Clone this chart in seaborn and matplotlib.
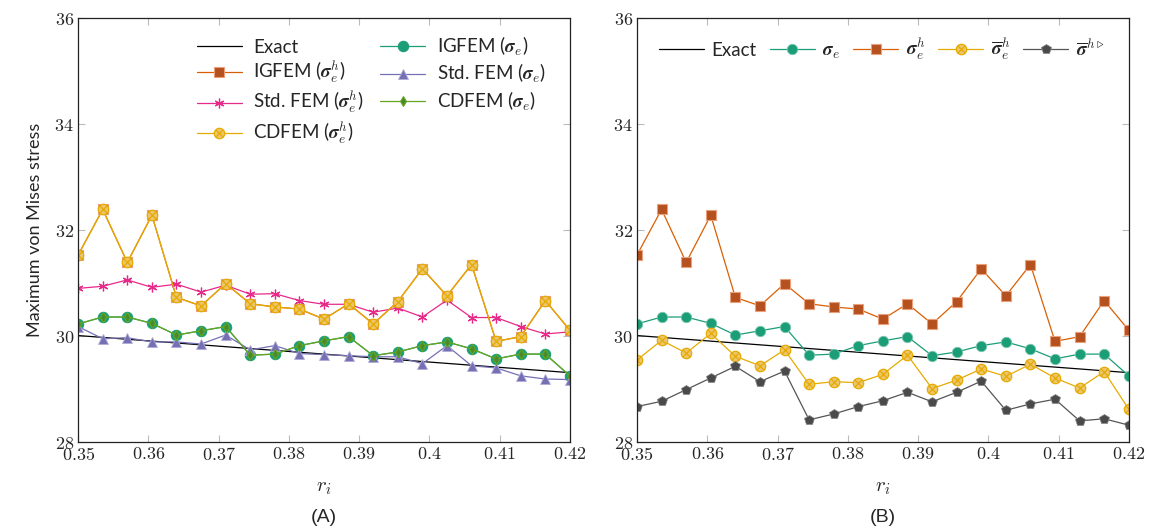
import matplotlib
matplotlib.use("Agg")
import matplotlib.pyplot as plt
import numpy as np
import seaborn as sns
from matplotlib.path import Path
from matplotlib.ticker import FuncFormatter

# --- data ---
r_i = [0.35, 0.3535, 0.357, 0.3605, 0.364, 0.3675, 0.371, 0.3745, 0.378, 0.3815,
       0.385, 0.3885, 0.392, 0.3955, 0.399, 0.4025, 0.406, 0.4095, 0.413, 0.4165, 0.42]
exact_r = [0.35, 0.42]
exact_vals = [30.01, 29.31]

igfem_se = [30.23, 30.36, 30.36, 30.24, 30.02, 30.10, 30.18, 29.64, 29.66, 29.82, 29.91,
            29.99, 29.63, 29.70, 29.82, 29.89, 29.76, 29.57, 29.66, 29.66, 29.25]
igfem_seh = [31.53, 32.39, 31.39, 32.28, 30.73, 30.57, 30.99, 30.61, 30.55, 30.51, 30.32,
             30.61, 30.23, 30.65, 31.27, 30.76, 31.35, 29.90, 29.99, 30.67, 30.11]
std_seh = [30.90, 30.94, 31.06, 30.92, 30.98, 30.83, 30.96, 30.79, 30.80, 30.67, 30.60,
           30.60, 30.45, 30.53, 30.36, 30.68, 30.35, 30.35, 30.18, 30.04, 30.08]
std_se = [30.18, 29.95, 29.97, 29.89, 29.89, 29.85, 30.02, 29.74, 29.82, 29.67, 29.65,
          29.63, 29.61, 29.61, 29.48, 29.82, 29.44, 29.40, 29.25, 29.19, 29.18]
cdfem_seh = igfem_seh
cdfem_se = igfem_se

sbar_eh = [29.55, 29.92, 29.68, 30.05, 29.62, 29.44, 29.74, 29.09, 29.14, 29.12, 29.28,
           29.64, 29.01, 29.17, 29.38, 29.24, 29.47, 29.21, 29.02, 29.33, 28.62]
sbar_tri = [28.67, 28.77, 28.99, 29.21, 29.43, 29.14, 29.34, 28.42, 28.53, 28.67, 28.78,
            28.94, 28.76, 28.94, 29.15, 28.60, 28.72, 28.81, 28.40, 28.44, 28.32]

x_ticks = [0.35, 0.36, 0.37, 0.38, 0.39, 0.40, 0.41, 0.42]
y_ticks = [28, 30, 32, 34, 36]

# --- style ---
sns.set_theme(style="ticks")
plt.rcParams["font.family"] = ["Lato", "DejaVu Sans"]
plt.rcParams["mathtext.fontset"] = "cm"

teal = "#1b9e77"
orange = "#d95f02"
purple = "#7570b3"
pink = "#e7298a"
green = "#66a61e"
yellow = "#e6ab02"
gray = "#555555"

# circle with a cross inside
otimes = Path.make_compound_path(
    Path.unit_circle(),
    Path([(-0.7, -0.7), (0.7, 0.7)], [Path.MOVETO, Path.LINETO]),
    Path([(-0.7, 0.7), (0.7, -0.7)], [Path.MOVETO, Path.LINETO]),
)

sq_kw = dict(marker="s", markersize=7, markerfacecolor="#b5501f",
             markeredgecolor="#eaa07a", markeredgewidth=0.8)
ot_kw = dict(marker=otimes, markersize=7.5, markerfacecolor="#ebc66e",
             markeredgecolor=yellow, markeredgewidth=0.9)

S = r"\mathbfit{\sigma}"


def fmt_num(v, pos):
    return f"${v:g}$"


def style_axes(ax, xlab):
    ax.set_xlim(0.35, 0.42)
    ax.set_ylim(28, 36)
    ax.set_xticks(x_ticks)
    ax.set_yticks(y_ticks)
    ax.xaxis.set_major_formatter(FuncFormatter(fmt_num))
    ax.yaxis.set_major_formatter(FuncFormatter(fmt_num))
    ax.tick_params(direction="in", length=5, width=0.8, color="#bbbbbb",
                   labelsize=13, top=True, right=True, pad=3)
    for sp in ax.spines.values():
        sp.set_visible(True)
        sp.set_linewidth(0.9)
        sp.set_color("#222222")
    ax.set_xlabel(r"$r_i$", fontsize=15, labelpad=10)
    ax.text(0.5, -0.179, xlab, transform=ax.transAxes, ha="center", va="center",
            fontsize=14, family="Liberation Sans")


fig = plt.figure(figsize=(11.49, 5.32), dpi=100)
axA = fig.add_axes([0.068, 0.169, 0.428, 0.797])
axB = fig.add_axes([0.5544, 0.169, 0.428, 0.797])

lw = 0.9

# Panel A
sns.lineplot(x=exact_r, y=exact_vals, ax=axA, color="black", linewidth=lw, label="Exact")
sns.lineplot(x=r_i, y=igfem_seh, ax=axA, color=orange, linewidth=lw,
             label=rf"IGFEM (${S}_e^h$)", **sq_kw)
sns.lineplot(x=r_i, y=std_seh, ax=axA, color=pink, linewidth=lw, marker=(6, 2, 0),
             markersize=7, markeredgecolor=pink, markeredgewidth=0.9,
             label=rf"Std. FEM (${S}_e^h$)")
sns.lineplot(x=r_i, y=cdfem_seh, ax=axA, color=yellow, linewidth=lw,
             label=rf"CDFEM (${S}_e^h$)", **ot_kw)
sns.lineplot(x=r_i, y=igfem_se, ax=axA, color=teal, linewidth=lw, marker="o",
             markersize=7.5, markerfacecolor=teal, markeredgecolor=teal,
             label=rf"IGFEM (${S}_e$)")
sns.lineplot(x=r_i, y=std_se, ax=axA, color=purple, linewidth=lw, marker="^",
             markersize=7, markerfacecolor=purple, markeredgecolor="#b0acd8",
             markeredgewidth=0.6, label=rf"Std. FEM (${S}_e$)")
sns.lineplot(x=r_i, y=cdfem_se, ax=axA, color=green, linewidth=lw, marker="d",
             markersize=5.5, markerfacecolor="#4a8a2a", markeredgecolor=green,
             label=rf"CDFEM (${S}_e$)")

axA.legend(ncol=2, loc="upper right", bbox_to_anchor=(0.985, 1.0), frameon=False,
           fontsize=13.5, handlelength=2.4, columnspacing=0.9, labelspacing=0.22,
           handletextpad=0.6)
axA.set_ylabel("Maximum von Mises stress", fontsize=13, labelpad=8)
style_axes(axA, "(A)")

# Panel B
sns.lineplot(x=exact_r, y=exact_vals, ax=axB, color="black", linewidth=lw, label="Exact")
sns.lineplot(x=r_i, y=igfem_se, ax=axB, color=teal, linewidth=lw, marker="o",
             markersize=7.5, markerfacecolor=teal, markeredgecolor="#7cc6ae",
             markeredgewidth=0.6, label=rf"${S}_e$")
sns.lineplot(x=r_i, y=igfem_seh, ax=axB, color=orange, linewidth=lw,
             label=rf"${S}_e^h$", **sq_kw)
sns.lineplot(x=r_i, y=sbar_eh, ax=axB, color=yellow, linewidth=lw,
             label=rf"$\overline{{{S}}}_e^h$", **ot_kw)
sns.lineplot(x=r_i, y=sbar_tri, ax=axB, color=gray, linewidth=lw, marker="p",
             markersize=7.5, markerfacecolor="#4a4a4a", markeredgecolor="#888888",
             markeredgewidth=0.5, label=rf"$\overline{{{S}}}^{{h\triangleright}}$")
axB.legend(ncol=5, loc="upper left", bbox_to_anchor=(0.01, 0.995), frameon=False,
           fontsize=13.5, handlelength=2.4, columnspacing=0.7, handletextpad=0.4)
axB.set_ylabel("")
style_axes(axB, "(B)")

fig.savefig("out.png", dpi=100)
